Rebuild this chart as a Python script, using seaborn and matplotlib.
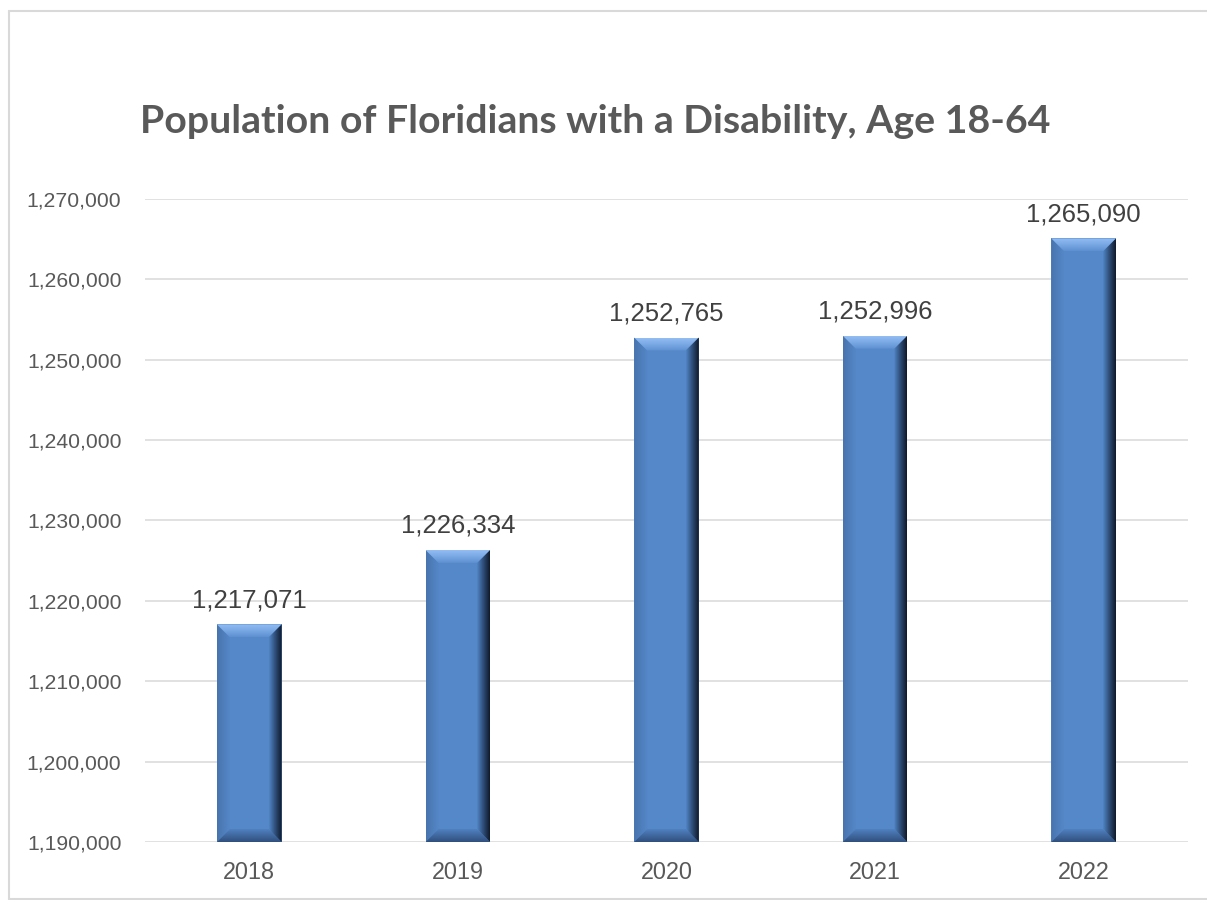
import numpy as np
import pandas as pd
import matplotlib
matplotlib.use("Agg")
import matplotlib.pyplot as plt
from matplotlib.patches import Polygon
from matplotlib.lines import Line2D
from matplotlib.colors import LinearSegmentedColormap
import seaborn as sns

years = ["2018", "2019", "2020", "2021", "2022"]
population = [1217071, 1226334, 1252765, 1252996, 1265090]
title = "Population of Floridians with a Disability, Age 18-64"

sns.set_theme(style="white")
plt.rcParams["font.family"] = ["Liberation Sans", "DejaVu Sans"]

W, H = 1207, 900
fig = plt.figure(figsize=(W / 100, H / 100), dpi=100)
fig.patch.set_facecolor("white")
ax = fig.add_axes([145 / W, 58 / H, (1188 - 145) / W, (842 - 199) / H])

df = pd.DataFrame({"year": years, "pop": population})
sns.barplot(data=df, x="year", y="pop", color="#5588C8", width=0.31,
            saturation=1, ax=ax, zorder=3, linewidth=0)

ymin, ymax = 1190000, 1270000
ax.set_ylim(ymin, ymax)
ax.set_xlim(-0.5, 4.5)
ax.set_yticks(np.arange(ymin, ymax + 1, 10000))
ax.yaxis.set_major_formatter(matplotlib.ticker.FuncFormatter(lambda v, p: f"{int(v):,}"))
ax.grid(axis="y", color="#D9D9D9", linewidth=1.1, zorder=0)
ax.grid(axis="x", visible=False)
for s in ax.spines.values():
    s.set_visible(False)
ax.set_xlabel("")
ax.set_ylabel("")
ax.tick_params(axis="y", labelsize=15.2, labelcolor="#595959", pad=17, length=0)
ax.tick_params(axis="x", labelsize=16.8, labelcolor="#595959", pad=14, length=0)

# bevel effect
pxx = 1.0 / ((1188 - 145) / 5.0)      # data units per px in x
pxy = (ymax - ymin) / (842 - 199)      # data units per px in y
bx, by = 13 * pxx, 13 * pxy
right_cmap = LinearSegmentedColormap.from_list("r", ["#5084C4", "#2E4C76", "#0F1A2A"])
top_cmap = LinearSegmentedColormap.from_list("t", ["#5E90D0", "#79A8E4", "#93BDF2"])
bot_cmap = LinearSegmentedColormap.from_list("b", ["#2F507E", "#40689E", "#5081C0"])
left_cmap = LinearSegmentedColormap.from_list("l", ["#4874AE", "#5587C7"])


def grad_fill(poly, extent, cmap, horizontal):
    ax.add_patch(poly)
    g = np.linspace(0, 1, 64)
    g = g.reshape(1, -1) if horizontal else g.reshape(-1, 1)
    im = ax.imshow(g, extent=extent, aspect="auto", cmap=cmap, origin="lower",
                   zorder=4, interpolation="bilinear")
    im.set_clip_path(poly)


for p in list(ax.patches):
    x0 = p.get_x()
    x1 = x0 + p.get_width()
    y0 = max(p.get_y(), ymin)
    y1 = p.get_y() + p.get_height()
    kw = dict(closed=True, facecolor="none", edgecolor="none", zorder=4)
    left = Polygon([(x0, y0), (x0, y1), (x0 + bx, y1 - by), (x0 + bx, y0 + by)], **kw)
    grad_fill(left, (x0, x0 + bx, y0, y1), left_cmap, True)
    bottom = Polygon([(x0, y0), (x1, y0), (x1 - bx, y0 + by), (x0 + bx, y0 + by)], **kw)
    grad_fill(bottom, (x0, x1, y0, y0 + by), bot_cmap, False)
    top = Polygon([(x0, y1), (x1, y1), (x1 - bx, y1 - by), (x0 + bx, y1 - by)], **kw)
    grad_fill(top, (x0, x1, y1 - by, y1), top_cmap, False)
    right = Polygon([(x1, y1), (x1, y0), (x1 - bx, y0 + by), (x1 - bx, y1 - by)], **kw)
    grad_fill(right, (x1 - bx, x1, y0, y1), right_cmap, True)
    ax.annotate(f"{int(y1):,}", (x0 + p.get_width() / 2, y1), xytext=(0, 12.5),
                textcoords="offset points", ha="center", va="baseline",
                fontsize=18.5, color="#404040", zorder=6)

ax.set_xlim(-0.5, 4.5)
ax.set_ylim(ymin, ymax)

fig.text(595 / W, 1 - 133 / H, title, ha="center", va="baseline",
         fontsize=28.3, fontweight="bold", color="#595959",
         family=["Lato", "DejaVu Sans"])

# outer frame: top, left and bottom edges only
fx0, fy_top, fy_bot = 8.5 / W, 1 - 10.5 / H, 1 - 898.5 / H
for xs, ys in [([fx0, 1.0], [fy_top, fy_top]),
               ([fx0, fx0], [fy_bot, fy_top]),
               ([fx0, 1.0], [fy_bot, fy_bot])]:
    fig.add_artist(Line2D(xs, ys, transform=fig.transFigure,
                          color="#D9D9D9", linewidth=1.5))

fig.savefig("out.png", dpi=100, facecolor="white")
